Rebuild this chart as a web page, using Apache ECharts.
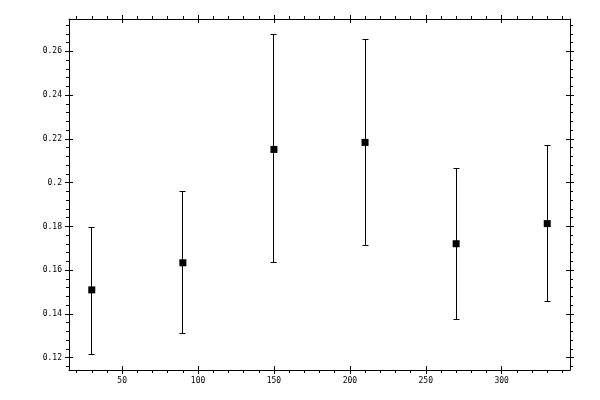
<!DOCTYPE html>
<html>
<head>
<meta charset="utf-8">
<script src="https://cdn.jsdelivr.net/npm/echarts@6/dist/echarts.min.js"></script>
<style>html,body{margin:0;padding:0;background:#fff;}#c{width:600px;height:400px;}</style>
</head>
<body>
<div id="c"></div>
<script>
// Data
var xValues = [30, 90, 150, 210, 270, 330];
var yValues = [0.151, 0.1634, 0.2152, 0.2184, 0.1721, 0.1813];
var yLow    = [0.1217, 0.1313, 0.1634, 0.1712, 0.1377, 0.1455];
var yHigh   = [0.1797, 0.196, 0.2675, 0.2655, 0.2063, 0.2171];

// Ticks
var xMajorTicks = [50, 100, 150, 200, 250, 300];
var xMinorTicks = [20, 30, 40, 50, 60, 70, 80, 90, 100, 110, 120, 130, 140, 150, 160, 170, 180, 190, 200,
                   210, 220, 230, 240, 250, 260, 270, 280, 290, 300, 310, 320, 330, 340];
var yMajorTicks = [0.12, 0.14, 0.16, 0.18, 0.2, 0.22, 0.24, 0.26];
var yMinorTicks = [0.116, 0.12, 0.124, 0.128, 0.132, 0.136, 0.14, 0.144, 0.148, 0.152, 0.156, 0.16,
                   0.164, 0.168, 0.172, 0.176, 0.18, 0.184, 0.188, 0.192, 0.196, 0.2, 0.204, 0.208,
                   0.212, 0.216, 0.22, 0.224, 0.228, 0.232, 0.236, 0.24, 0.244, 0.248, 0.252, 0.256,
                   0.26, 0.264, 0.268, 0.272];
var xMin = 15, xMax = 345;
var yMin = 0.1144, yMax = 0.2748;

var labelFont = {color: '#000', fontFamily: 'DejaVu Sans Mono', fontSize: 8};

function makeAxes(isX, position) {
  var majors = isX ? xMajorTicks : yMajorTicks;
  var minors = isX ? xMinorTicks : yMinorTicks;
  var mn = isX ? xMin : yMin, mx = isX ? xMax : yMax;
  var showLabels = (position === 'bottom' || position === 'left');
  var base = {type: 'value', position: position, min: mn, max: mx, splitLine: {show: false}};
  var a1 = Object.assign({}, base, {
    axisLine: {show: true, lineStyle: {color: '#000', width: 1}},
    axisTick: {show: true, inside: false, length: 4, customValues: majors, lineStyle: {color: '#000', width: 1}},
    axisLabel: showLabels ? Object.assign({show: true, margin: 7, customValues: majors,
      formatter: function (v) { return String(+v.toFixed(4)); }}, labelFont) : {show: false}
  });
  var a2 = Object.assign({}, base, {
    axisLine: {show: false},
    axisTick: {show: true, inside: true, length: 4, customValues: majors, lineStyle: {color: '#000', width: 1}},
    axisLabel: {show: false}
  });
  var a3 = Object.assign({}, base, {
    axisLine: {show: false},
    axisTick: {show: true, inside: false, length: 3, customValues: minors, lineStyle: {color: '#000', width: 1}},
    axisLabel: {show: false}
  });
  return [a1, a2, a3];
}

var xAxes = makeAxes(true, 'bottom').concat(makeAxes(true, 'top'));
var yAxes = makeAxes(false, 'left').concat(makeAxes(false, 'right'));

var points = xValues.map(function (x, i) { return [x, yValues[i]]; });
var bars = xValues.map(function (x, i) { return [x, yLow[i], yHigh[i]]; });

function crisp(v) { return Math.round(v - 0.5) + 0.5; }

var chart = echarts.init(document.getElementById('c'), null, {renderer: 'canvas'});
chart.setOption({
  animation: false,
  backgroundColor: '#fff',
  grid: {left: 69, right: 30, top: 19, bottom: 30, containLabel: false},
  xAxis: xAxes,
  yAxis: yAxes,
  series: [
    {
      type: 'custom',
      xAxisIndex: 0, yAxisIndex: 0,
      data: bars,
      renderItem: function (params, api) {
        var x = api.value(0);
        var lo = api.coord([x, api.value(1)]);
        var hi = api.coord([x, api.value(2)]);
        var cx = crisp(lo[0]), ly = crisp(lo[1]), hy = crisp(hi[1]);
        var hw = 3;
        var st = {stroke: '#000', lineWidth: 1};
        return {
          type: 'group',
          children: [
            {type: 'line', shape: {x1: cx, y1: ly, x2: cx, y2: hy}, style: st},
            {type: 'line', shape: {x1: cx - hw, y1: ly, x2: cx + hw, y2: ly}, style: st},
            {type: 'line', shape: {x1: cx - hw, y1: hy, x2: cx + hw, y2: hy}, style: st}
          ]
        };
      },
      z: 2
    },
    {
      type: 'scatter',
      xAxisIndex: 0, yAxisIndex: 0,
      data: points,
      symbol: 'rect',
      symbolSize: 7,
      itemStyle: {color: '#000', opacity: 1},
      z: 3
    }
  ]
});
</script>
</body>
</html>
